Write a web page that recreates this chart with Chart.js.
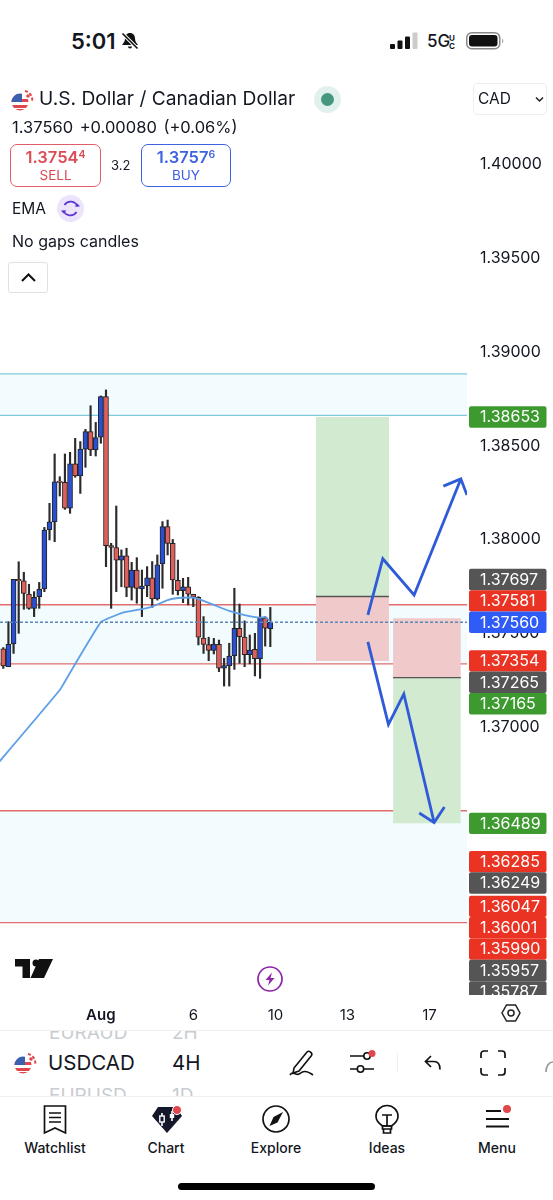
<!DOCTYPE html>
<html>
<head>
<meta charset="utf-8">
<title>USDCAD 4H</title>
<script src="https://cdn.jsdelivr.net/npm/chart.js@4"></script>
<style>
  html, body { margin: 0; padding: 0; background: #fff; }
  body { width: 553px; height: 1200px; position: relative; overflow: hidden; font-family: Inter, "Noto Sans", sans-serif; color: #131722; }
  canvas { position: absolute; left: 0; top: 75px; }
  .t { position: absolute; white-space: nowrap; line-height: 1; }
  .abs { position: absolute; }
  .box { position: absolute; box-sizing: border-box; border-radius: 7px; border: 1.5px solid; background: #fff; text-align: center; }
  .box b { display: block; font-weight: 600; font-size: 16.5px; margin-top: 3px; line-height: 18px; }
  .box b sup { font-size: 10.5px; line-height: 0; vertical-align: 5px; }
  .box span { display: block; font-size: 13.5px; line-height: 19px; }
  .tab { position: absolute; top: 1140px; width: 90px; text-align: center; font-size: 14px; font-weight: 500; line-height: 16px; }
  svg { position: absolute; overflow: visible; }
</style>
</head>
<body>
<canvas id="grafico" width="553" height="955"></canvas>

<!-- barra de status -->
<div class="t" style="left:71px;top:30px;font-size:22px;font-weight:600">5:01</div>
<svg style="left:121px;top:32px" width="18" height="18" viewBox="0 0 18 18"><path d="M9 1c-3.2 0-5 2.4-5 5.5 0 3.5-2 5-3 6.5h16c-1-1.500-3-3-3-6.500C14 3.400 12.200 1 9 1zM7 14.500a2 2 0 0 0 4 0z" fill="#111"/><path d="M1.500 1.500l15 15" stroke="#fff" stroke-width="3.500"/><path d="M1.500 1.500l15 15" stroke="#111" stroke-width="1.600"/></svg>
<svg style="left:390px;top:32px" width="28" height="18"><rect x="0" y="12" width="5" height="5" rx="1" fill="#111"/><rect x="7.500" y="8.500" width="5" height="8.500" rx="1" fill="#111"/><rect x="15" y="4.500" width="5" height="12.500" rx="1" fill="#111"/><rect x="22.500" y="0.500" width="5" height="16.500" rx="1" fill="#ccc"/></svg>
<div class="t" style="left:427px;top:33px;font-size:17px;font-weight:500">5G</div>
<div class="t" style="left:449px;top:34px;font-size:8px;font-weight:700;line-height:8px">U<br>C</div>
<svg style="left:466px;top:32px" width="40" height="18"><rect x="0.750" y="0.750" width="33" height="16" rx="5" fill="none" stroke="#888" stroke-width="1.500"/><rect x="3" y="3" width="28.500" height="11.500" rx="3" fill="#111"/><path d="M36 6.500a3 3 0 0 1 0 5z" fill="#aaa"/></svg>

<!-- cabeçalho do gráfico -->
<svg style="left:11px;top:89px" width="24" height="22" viewBox="0 0 24 22"><use href="#bandeira"/></svg>
<div class="t" style="left:39px;top:89px;font-size:19.200px">U.S. Dollar / Canadian Dollar</div>
<svg style="left:314px;top:86px" width="27" height="27"><circle cx="13.500" cy="13.500" r="13.500" fill="#e2f1ed"/><circle cx="13.500" cy="13.500" r="6.500" fill="#47977f"/></svg>
<div class="abs" style="left:473px;top:83px;width:74px;height:32px;box-sizing:border-box;border:1.500px solid #eceef1;border-radius:4px"></div>
<div class="t" style="left:478px;top:91px;font-size:15.500px">CAD</div>
<svg style="left:535px;top:96px" width="9" height="7"><path d="M1 1.500l3.500 3.500 3.500-3.500" fill="none" stroke="#222" stroke-width="1.500"/></svg>
<div class="t" style="left:12px;top:119px;font-size:16.500px;word-spacing:2px">1.37560 +0.00080 (+0.06%)</div>
<div class="box" style="left:10px;top:144px;width:91px;height:43px;border-color:#de5f69;color:#dc4a55"><b>1.3754<sup>4</sup></b><span>SELL</span></div>
<div class="t" style="left:111px;top:159px;font-size:13px">3.2</div>
<div class="box" style="left:141px;top:144px;width:90px;height:43px;border-color:#3f62e0;color:#3f62e0"><b>1.3757<sup>6</sup></b><span>BUY</span></div>
<div class="t" style="left:12px;top:201px;font-size:15.500px">EMA</div>
<svg style="left:57px;top:195px" width="27" height="27" viewBox="0 0 27 27"><circle cx="13.500" cy="13.500" r="13.500" fill="#ece4fb"/><path d="M20.500 11.500A7.300 7.300 0 0 0 7.500 10M6.500 15.500A7.300 7.300 0 0 0 19.500 17" fill="none" stroke="#5a34d6" stroke-width="1.700"/><path d="M17.500 11.500h5.500l-2.500-3zM9.500 15.500h-5.500l2.500 3z" fill="#5a34d6"/></svg>
<div class="t" style="left:12px;top:233px;font-size:16px">No gaps candles</div>
<div class="abs" style="left:8px;top:262px;width:40px;height:31px;box-sizing:border-box;border:1.500px solid #dfe1e5;border-radius:3px;background:#fff"></div>
<svg style="left:21px;top:273px" width="15" height="9"><path d="M1 8l6.500-6.500L14 8" fill="none" stroke="#111" stroke-width="2"/></svg>

<!-- logo e raio -->
<svg style="left:15px;top:959px" width="38" height="19" viewBox="0 0 38 19"><path d="M0 0h15v19H7.500V7.500H0zM24 0h14l-9 19H15.500z" fill="#111"/><circle cx="21" cy="4" r="3.500" fill="#111"/></svg>
<svg style="left:257px;top:966px" width="26" height="26" viewBox="0 0 26 26"><circle cx="13" cy="13" r="12" fill="#fff" stroke="#8e24aa" stroke-width="1.700"/><path d="M15 6.500L8.500 14h4l-1.500 5.500 6.500-7.500h-4z" fill="#8e24aa"/></svg>
<svg style="left:501px;top:1004px" width="20" height="18" viewBox="0 0 20 18"><path d="M5.500 1h9L19 9l-4.500 8h-9L1 9z" fill="none" stroke="#222" stroke-width="1.500"/><circle cx="10" cy="9" r="3" fill="none" stroke="#222" stroke-width="1.500"/></svg>

<!-- linha do ticker -->
<div class="abs" style="left:0;top:1030px;width:553px;height:1px;background:#eef0f2"></div>
<div class="abs" style="left:0;top:1031px;width:553px;height:11px;overflow:hidden"><div class="t" style="left:49px;top:-8px;font-size:19px;color:#c9ccd1">EURAUD</div><div class="t" style="left:172px;top:-8px;font-size:19px;color:#c9ccd1">2H</div></div>
<svg style="left:14px;top:1052px" width="24" height="22" viewBox="0 0 24 22"><use href="#bandeira"/></svg>
<div class="t" style="left:48px;top:1053px;font-size:20.500px">USDCAD</div>
<div class="t" style="left:172px;top:1053px;font-size:20.500px">4H</div>
<div class="abs" style="left:0;top:1086px;width:553px;height:10px;overflow:hidden"><div class="t" style="left:49px;top:0;font-size:19px;color:#c9ccd1">EURUSD</div><div class="t" style="left:172px;top:0;font-size:19px;color:#c9ccd1">1D</div></div>
<div class="abs" style="left:0;top:1096px;width:553px;height:1px;background:#eef0f2"></div>
<svg style="left:289px;top:1049px" width="26" height="28" viewBox="0 0 26 28"><path d="M5 19L18 3c2-2 6 1 4.500 3.500L10 22l-6 2z" fill="none" stroke="#111" stroke-width="1.600"/><path d="M1 26c3-5 6 1 9-1s6-5 14 1" fill="none" stroke="#111" stroke-width="1.600"/></svg>
<svg style="left:349px;top:1050px" width="26" height="26" viewBox="0 0 26 26"><path d="M1 6h14M1 19h7M15 19h10" stroke="#111" stroke-width="1.600"/><circle cx="18" cy="6" r="3.200" fill="none" stroke="#111" stroke-width="1.600"/><circle cx="11.500" cy="19" r="3.200" fill="none" stroke="#111" stroke-width="1.600"/><circle cx="23" cy="3.500" r="3.500" fill="#e0474c"/></svg>
<div class="abs" style="left:397px;top:1053px;width:1px;height:20px;background:#eef0f2"></div>
<svg style="left:424px;top:1055px" width="18" height="16" viewBox="0 0 18 16"><path d="M7 1L1.500 6.500 7 12M2 6.500h8c4 0 6 3 6 8" fill="none" stroke="#111" stroke-width="1.700"/></svg>
<svg style="left:480px;top:1050px" width="26" height="26" viewBox="0 0 26 26"><path d="M1 8V4a3 3 0 0 1 3-3h4M18 1h4a3 3 0 0 1 3 3v4M25 18v4a3 3 0 0 1-3 3h-4M8 25H4a3 3 0 0 1-3-3v-4" fill="none" stroke="#111" stroke-width="1.700"/></svg>
<svg style="left:545px;top:1060px" width="8" height="14"><path d="M1 12c0-6 3-10 7-10" fill="none" stroke="#999" stroke-width="1.700"/></svg>

<!-- barra de abas -->
<svg style="left:43px;top:1105px" width="24" height="29" viewBox="0 0 24 29"><path d="M1.500 1h21v27l-10.500-5-10.500 5z" fill="none" stroke="#111" stroke-width="1.700"/><path d="M6 8h12M6 12.500h12M6 17h12" stroke="#111" stroke-width="1.600"/></svg>
<svg style="left:151px;top:1105px" width="32" height="29" viewBox="0 0 32 29"><path d="M7 2h18l6 9-15 17L1 11z" fill="#14182a"/><path d="M11 8v13M21 6v10" stroke="#fff" stroke-width="1.600"/><rect x="8.800" y="11" width="4.400" height="6" fill="#14182a" stroke="#fff" stroke-width="1.400"/><rect x="18.800" y="9" width="4.400" height="4" fill="#fff"/><circle cx="26" cy="5" r="4.500" fill="#e0474c" stroke="#fff"/></svg>
<svg style="left:262px;top:1105px" width="28" height="28" viewBox="0 0 28 28"><circle cx="14" cy="14" r="13" fill="none" stroke="#111" stroke-width="1.700"/><path d="M21 7L15.500 17.500 7.500 21l4-9z" fill="#111"/></svg>
<svg style="left:375px;top:1105px" width="24" height="30" viewBox="0 0 24 30"><path d="M7.500 21C4 18.500 1 16 1 11.500a11 11 0 0 1 22 0c0 4.500-3 7-6.500 9.500z" fill="none" stroke="#111" stroke-width="1.700"/><path d="M7 10h10M12 10v11M7.500 21h9v3h-9zM8.500 24h7v4h-7z" fill="none" stroke="#111" stroke-width="1.700"/></svg>
<svg style="left:486px;top:1105px" width="24" height="24" viewBox="0 0 24 24"><path d="M0 6h15M0 14h23M0 21.500h23" stroke="#111" stroke-width="1.800"/><circle cx="21" cy="4" r="4" fill="#e0474c"/></svg>
<div class="tab" style="left:10px">Watchlist</div>
<div class="tab" style="left:121px">Chart</div>
<div class="tab" style="left:231px">Explore</div>
<div class="tab" style="left:342px">Ideas</div>
<div class="tab" style="left:452px">Menu</div>
<div class="abs" style="left:178px;top:1183px;width:197px;height:7px;border-radius:4px;background:#000"></div>

<svg width="0" height="0" style="left:0;top:0"><defs>
  <g id="bandeira">
    <clipPath id="circ"><circle cx="9" cy="13" r="8.500"/></clipPath>
    <g clip-path="url(#circ)"><rect y="4" width="18" height="18" fill="#fff"/><rect y="10" width="18" height="3" fill="#e0474c"/><rect y="16" width="18" height="3" fill="#e0474c"/><rect y="20" width="18" height="3" fill="#e0474c"/><rect y="4" width="11" height="9" fill="#3c5fae"/></g>
    <path d="M14 2a9 9 0 0 1 7 11" fill="none" stroke="#e0474c" stroke-width="2" stroke-dasharray="3 2"/><circle cx="17" cy="7" r="1.800" fill="#e0474c"/>
  </g>
</defs></svg>

<script>
(function () {
  const $ = (id) => document.getElementById(id);

  // candles de 4H (índice 0 = primeiro candle visível)
  const opens = [1.37419, 1.37323, 1.37444, 1.37788, 1.37780, 1.37710, 1.37634, 1.37696, 1.37737, 1.38053, 1.38094, 1.38312, 1.38305, 1.38167, 1.38403, 1.38339, 1.38482, 1.38575, 1.38477, 1.38545, 1.38761, 1.37968, 1.37957, 1.37891, 1.37914, 1.37746, 1.37838, 1.37737, 1.37753, 1.37797, 1.37684, 1.37870, 1.38069, 1.37980, 1.37783, 1.37728, 1.37749, 1.37709, 1.37693, 1.37476, 1.37441, 1.37410, 1.37442, 1.37315, 1.37329, 1.37382, 1.37528, 1.37481, 1.37387, 1.37416, 1.37366, 1.37584, 1.37526];
  const highs = [1.37425, 1.37563, 1.37788, 1.37882, 1.37826, 1.37762, 1.37723, 1.37772, 1.38065, 1.38193, 1.38456, 1.38335, 1.38456, 1.38465, 1.38539, 1.38522, 1.38587, 1.38713, 1.38624, 1.38765, 1.38797, 1.37980, 1.38179, 1.37945, 1.37954, 1.37879, 1.37904, 1.37838, 1.37856, 1.37883, 1.37918, 1.38096, 1.38104, 1.38001, 1.37891, 1.37794, 1.37799, 1.37709, 1.37696, 1.37590, 1.37480, 1.37474, 1.37465, 1.37368, 1.37448, 1.37741, 1.37657, 1.37567, 1.37492, 1.37501, 1.37634, 1.37590, 1.37639];
  const lows = [1.37314, 1.37323, 1.37394, 1.37501, 1.37629, 1.37629, 1.37590, 1.37634, 1.37723, 1.37998, 1.37989, 1.38232, 1.38161, 1.38140, 1.38332, 1.38246, 1.38385, 1.38447, 1.38445, 1.38513, 1.37856, 1.37634, 1.37723, 1.37749, 1.37696, 1.37678, 1.37661, 1.37590, 1.37696, 1.37639, 1.37678, 1.37741, 1.37918, 1.37709, 1.37705, 1.37664, 1.37652, 1.37643, 1.37439, 1.37394, 1.37355, 1.37391, 1.37297, 1.37220, 1.37220, 1.37309, 1.37341, 1.37323, 1.37338, 1.37274, 1.37261, 1.37433, 1.37430];
  const closes = [1.37327, 1.37442, 1.37788, 1.37781, 1.37714, 1.37634, 1.37693, 1.37735, 1.38051, 1.38094, 1.38308, 1.38305, 1.38167, 1.38403, 1.38339, 1.38482, 1.38575, 1.38477, 1.38543, 1.38761, 1.37968, 1.37959, 1.37891, 1.37914, 1.37746, 1.37838, 1.37740, 1.37753, 1.37797, 1.37684, 1.37865, 1.38069, 1.37980, 1.37785, 1.37728, 1.37749, 1.37710, 1.37693, 1.37480, 1.37442, 1.37410, 1.37444, 1.37315, 1.37329, 1.37380, 1.37528, 1.37483, 1.37387, 1.37412, 1.37366, 1.37584, 1.37528, 1.37560];

  // média móvel (EMA) nos candles onde dá para ler
  const emaIdx = [-1, 11, 14, 19, 23, 27, 29, 32, 34, 37, 38, 41, 44, 47, 50, 51, 52];
  const emaVal = [1.36810, 1.37199, 1.37338, 1.37561, 1.37609, 1.37630, 1.37643, 1.37678, 1.37689, 1.37691, 1.37684, 1.37652, 1.37620, 1.37598, 1.37584, 1.37589, 1.37563];

  // eixos
  const yTicks = [1.40, 1.395, 1.39, 1.385, 1.38, 1.375, 1.37, 1.365, 1.36];
  const xTickIdx = [19, 37, 53, 67, 83];
  const xTickLabels = ['Aug', '6', '10', '13', '17'];

  // zonas e níveis desenhados
  const zonaTopo = [1.38882, 1.38662];
  const zonaMeio = [1.37653, 1.37338];
  const zonaBaixo = [1.36556, 1.35960];
  const ultimoPreco = 1.37560;

  // posições long e short: índice inicial/final, alvo, entrada, stop
  const longIdx = [60.9, 75.1];
  const longNiveis = [1.38653, 1.37697, 1.37354];
  const shortIdx = [75.9, 89.1];
  const shortNiveis = [1.37581, 1.37265, 1.36489];

  // setas à mão
  const setaCimaIdx = [71, 73.9, 80, 89.1];
  const setaCimaVal = [1.37599, 1.37898, 1.37705, 1.38323];
  const pontaCimaIdx = [85.7, 89.1, 90.3];
  const pontaCimaVal = [1.38285, 1.38323, 1.38237];
  const setaBaixoIdx = [71, 75, 78, 83.9];
  const setaBaixoVal = [1.37455, 1.37016, 1.37178, 1.36493];
  const pontaBaixoIdx = [81, 83.9, 85.9];
  const pontaBaixoVal = [1.36544, 1.36493, 1.36576];

  // etiquetas de preço no eixo direito
  const tagPrecos = [1.38653, 1.37697, 1.37581, 1.37560, 1.37354, 1.37265, 1.37165, 1.36489, 1.36285, 1.36249, 1.36047, 1.36001, 1.35990, 1.35957, 1.35787];
  const tagTipos = ['alvo', 'entrada', 'stop', 'ultimo', 'stop', 'entrada', 'alvo', 'alvo', 'stop', 'entrada', 'stop', 'stop', 'stop', 'entrada', 'entrada'];

  const COR_TAG = { alvo: '#3d9a2f', entrada: '#555555', stop: '#ea3323', ultimo: '#2f5cf6' };
  const AZUL = '#2a50d2', VERM = '#de5f5b', AZUL_ZONA = '#f2fbfd', CIANO = '#7fcbdc', RED = '#e36d6d';
  const VERDE_BOX = '#d2ead0', VERM_BOX = '#f0c9ca';
  const X_MIN = -0.64, X_MAX = 90.3;
  const ALT_TAG = 21.4;

  const pts = (xs, ys) => xs.map((x, i) => ({ x, y: ys[i] }));
  const faixa = (i0, i1, hi, lo, cor, order) => ({
    type: 'line', data: [{ x: i0, y: hi }, { x: i1, y: hi }], fill: { value: lo },
    backgroundColor: cor, borderWidth: 0, pointRadius: 0, order,
  });
  const nivel = (i0, i1, v, cor, order, extra) => ({
    type: 'line', data: [{ x: i0, y: v }, { x: i1, y: v }], borderColor: cor, borderWidth: 1.3,
    pointRadius: 0, order, ...extra,
  });
  const traco = (xs, ys) => ({
    type: 'line', data: pts(xs, ys), borderColor: '#2f5bd8', borderWidth: 2.8, pointRadius: 0,
    borderJoinStyle: 'miter', order: 1,
  });

  // etiquetas empurradas: acima do preço atual sobem, abaixo descem
  const tagsPlugin = {
    id: 'tags',
    afterDraw(chart) {
      const y = chart.scales.y, c = chart.ctx;
      const pos = tagPrecos.map(p => y.getPixelForValue(p));
      const iU = tagPrecos.indexOf(ultimoPreco);
      for (let i = iU - 1; i >= 0; i--) pos[i] = Math.min(pos[i], pos[i + 1] - ALT_TAG);
      for (let i = iU + 1; i < pos.length; i++) pos[i] = Math.max(pos[i], pos[i - 1] + ALT_TAG);
      c.save();
      c.beginPath(); c.rect(468, 0, 85, chart.chartArea.bottom); c.clip();
      c.font = '16px Inter'; c.textBaseline = 'middle'; c.textAlign = 'left';
      tagPrecos.forEach((p, i) => {
        c.fillStyle = COR_TAG[tagTipos[i]];
        c.beginPath(); c.roundRect(469, pos[i] - ALT_TAG / 2, 77.5, ALT_TAG, 2); c.fill();
        c.fillStyle = '#fff';
        c.fillText(p.toFixed(5), 480, pos[i] + 0.5);
      });
      c.restore();
    },
  };

  new Chart($('grafico'), {
    data: {
      datasets: [
        faixa(X_MIN, X_MAX, zonaTopo[0], zonaTopo[1], AZUL_ZONA, 20),
        faixa(X_MIN, X_MAX, zonaMeio[0], zonaMeio[1], AZUL_ZONA, 20),
        faixa(X_MIN, X_MAX, zonaBaixo[0], zonaBaixo[1], AZUL_ZONA, 20),
        nivel(X_MIN, X_MAX, zonaTopo[0], CIANO, 19),
        nivel(X_MIN, X_MAX, zonaTopo[1], CIANO, 19),
        nivel(X_MIN, X_MAX, zonaMeio[0], RED, 19),
        nivel(X_MIN, X_MAX, zonaMeio[1], RED, 19),
        nivel(X_MIN, X_MAX, zonaBaixo[0], RED, 19),
        nivel(X_MIN, X_MAX, zonaBaixo[1], RED, 19),
        faixa(longIdx[0], longIdx[1], longNiveis[0], longNiveis[1], VERDE_BOX, 15),
        faixa(longIdx[0], longIdx[1], longNiveis[1], longNiveis[2], VERM_BOX, 15),
        nivel(longIdx[0], longIdx[1], longNiveis[1], '#555', 14),
        faixa(shortIdx[0], shortIdx[1], shortNiveis[0], shortNiveis[1], VERM_BOX, 15),
        faixa(shortIdx[0], shortIdx[1], shortNiveis[1], shortNiveis[2], VERDE_BOX, 15),
        nivel(shortIdx[0], shortIdx[1], shortNiveis[1], '#555', 14),
        {
          type: 'bar', grouped: false, barThickness: 1.5, backgroundColor: '#2b2b2b', order: 9,
          data: highs.map((h, i) => ({ x: i, y: [lows[i], h] })),
        },
        {
          type: 'bar', grouped: false, barThickness: 5, borderWidth: 1, borderColor: '#222', borderSkipped: false,
          backgroundColor: closes.map((v, i) => (v > opens[i] ? AZUL : VERM)), order: 8,
          data: opens.map((o, i) => ({ x: i, y: [o, closes[i]] })),
        },
        {
          type: 'line', data: pts(emaIdx, emaVal), borderColor: '#5f9fe8', borderWidth: 1.8,
          pointRadius: 0, tension: 0.08, order: 5,
        },
        nivel(X_MIN, X_MAX, ultimoPreco, '#5b86b8', 4, { borderDash: [3, 2], borderWidth: 1.6 }),
        traco(setaCimaIdx, setaCimaVal),
        traco(pontaCimaIdx, pontaCimaVal),
        traco(setaBaixoIdx, setaBaixoVal),
        traco(pontaBaixoIdx, pontaBaixoVal),
      ],
    },
    options: {
      responsive: false, animation: false, maintainAspectRatio: false,
      layout: { padding: 0 },
      plugins: { legend: { display: false }, tooltip: { enabled: false } },
      events: [],
      scales: {
        x: {
          type: 'linear', min: X_MIN, max: X_MAX, offset: false,
          grid: { display: false, drawTicks: false }, border: { display: false },
          afterBuildTicks: (s) => { s.ticks = xTickIdx.map(value => ({ value })); },
          afterFit: (s) => { s.height = 35; s.paddingLeft = 0; s.paddingRight = 0; },
          ticks: {
            autoSkip: false, maxRotation: 0, color: '#131722', padding: 11,
            font: (ctx) => ({ family: 'Inter', size: 15, weight: ctx.index === 0 ? '600' : '400' }),
            callback: (v, i) => xTickLabels[i],
          },
        },
        y: {
          position: 'right', min: 1.35575, max: 1.40474,
          grid: { display: false, drawTicks: false }, border: { display: false },
          afterBuildTicks: (s) => { s.ticks = yTicks.map(value => ({ value })); },
          afterFit: (s) => { s.width = 86; s.paddingTop = 0; s.paddingBottom = 0; },
          ticks: {
            color: '#131722', padding: 13, font: { family: 'Inter', size: 16 },
            callback: (v) => Number(v).toFixed(5),
          },
        },
      },
    },
    plugins: [tagsPlugin],
  });
})();
</script>
</body>
</html>
